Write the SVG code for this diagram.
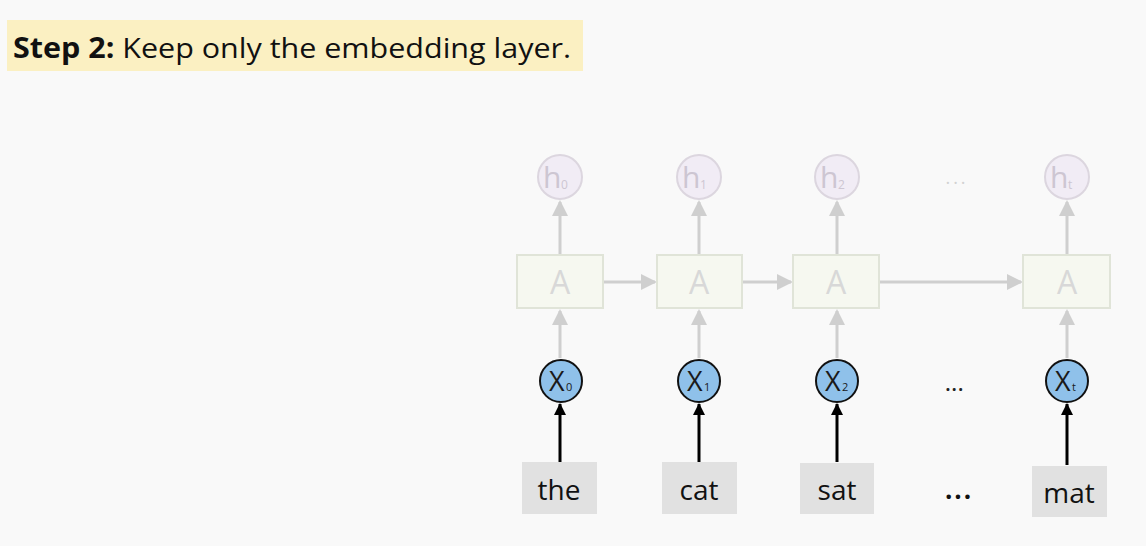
<svg xmlns="http://www.w3.org/2000/svg" width="1146" height="546" viewBox="0 0 1146 546">
<defs>
<style>
.t{font-family:"Open Sans","Noto Sans","Liberation Sans",sans-serif}
.hc{fill:#f1ecf5;stroke:#dcd6df;stroke-width:2}
.ht{fill:#cdc6d2;font-size:30px}
.hs{fill:#cdc6d2;font-size:12px}
.ab{fill:#f6f8f0;stroke:#e0e4d8;stroke-width:2}
.at{fill:#d8d8d8;font-size:32px}
.xc{fill:#8fc1ea;stroke:#111;stroke-width:2}
.xt{fill:#1a1a1a;font-size:27px}
.xs{fill:#1a1a1a;font-size:11px}
.wb{fill:#e1e1e1}
.wt{fill:#111;font-size:28px}
.g{stroke:#cfcfcf;stroke-width:3;fill:none}
.k{stroke:#000;stroke-width:3;fill:none}
</style>
<marker id="ag" markerUnits="userSpaceOnUse" markerWidth="16" markerHeight="16" refX="14" refY="8" orient="auto"><path d="M0,0 L16,8 L0,16 z" fill="#cfcfcf"/></marker>
<marker id="ak" markerUnits="userSpaceOnUse" markerWidth="12" markerHeight="12" refX="11" refY="6" orient="auto"><path d="M0,0 L12,6 L0,12 z" fill="#000"/></marker>
</defs>
<rect width="1146" height="546" fill="#f9f9f9"/>
<g id="title">
<rect x="7" y="20" width="576" height="51" fill="#fbf0c2"/>
<text class="t" x="13" y="58" font-size="28" fill="#111" textLength="558" lengthAdjust="spacingAndGlyphs"><tspan font-weight="bold">Step 2:</tspan> Keep only the embedding layer.</text>
</g>
<g id="connectors">
<line class="g" x1="560" y1="255" x2="560" y2="202" marker-end="url(#ag)"/>
<line class="g" x1="699" y1="255" x2="699" y2="202" marker-end="url(#ag)"/>
<line class="g" x1="837" y1="255" x2="837" y2="202" marker-end="url(#ag)"/>
<line class="g" x1="1067" y1="255" x2="1067" y2="202" marker-end="url(#ag)"/>
<line class="g" x1="560" y1="358" x2="560" y2="311" marker-end="url(#ag)"/>
<line class="g" x1="699" y1="358" x2="699" y2="311" marker-end="url(#ag)"/>
<line class="g" x1="837" y1="358" x2="837" y2="311" marker-end="url(#ag)"/>
<line class="g" x1="1067" y1="358" x2="1067" y2="311" marker-end="url(#ag)"/>
<line class="g" x1="604" y1="282" x2="655" y2="282" marker-end="url(#ag)"/>
<line class="g" x1="743" y1="282" x2="791" y2="282" marker-end="url(#ag)"/>
<line class="g" x1="880" y1="282" x2="1021" y2="282" marker-end="url(#ag)"/>
<line class="k" x1="560" y1="462" x2="560" y2="404" marker-end="url(#ak)"/>
<line class="k" x1="699" y1="462" x2="699" y2="404" marker-end="url(#ak)"/>
<line class="k" x1="837" y1="462" x2="837" y2="404" marker-end="url(#ak)"/>
<line class="k" x1="1067" y1="465" x2="1067" y2="404" marker-end="url(#ak)"/>
</g>
<g id="h0"><circle class="hc" cx="560" cy="177" r="22"/><text class="t ht" x="543" y="188">h</text><text class="t hs" x="561" y="189">0</text></g>
<g id="h1"><circle class="hc" cx="699" cy="177" r="22"/><text class="t ht" x="682" y="188">h</text><text class="t hs" x="700" y="189">1</text></g>
<g id="h2"><circle class="hc" cx="837" cy="177" r="22"/><text class="t ht" x="820" y="188">h</text><text class="t hs" x="838" y="189">2</text></g>
<g id="ht"><circle class="hc" cx="1067" cy="177" r="22"/><text class="t ht" x="1050" y="188">h</text><text class="t hs" x="1068" y="189">t</text></g>
<g id="hdots"><text class="t" x="957" y="184" font-size="18" fill="#d2d2d2" text-anchor="middle" letter-spacing="3">...</text></g>
<g id="A0"><rect class="ab" x="517" y="255" width="86" height="53"/><text class="t at" x="560" y="294" text-anchor="middle">A</text></g>
<g id="A1"><rect class="ab" x="657" y="255" width="85" height="53"/><text class="t at" x="699" y="294" text-anchor="middle">A</text></g>
<g id="A2"><rect class="ab" x="793" y="255" width="86" height="53"/><text class="t at" x="836" y="294" text-anchor="middle">A</text></g>
<g id="At"><rect class="ab" x="1023" y="255" width="87" height="53"/><text class="t at" x="1067" y="294" text-anchor="middle">A</text></g>
<g id="x0"><circle class="xc" cx="561" cy="381" r="21"/><text class="t xt" x="549" y="391">X</text><text class="t xs" x="566" y="391">0</text></g>
<g id="x1"><circle class="xc" cx="699" cy="381" r="21"/><text class="t xt" x="687" y="391">X</text><text class="t xs" x="704" y="391">1</text></g>
<g id="x2"><circle class="xc" cx="837" cy="381" r="21"/><text class="t xt" x="825" y="391">X</text><text class="t xs" x="842" y="391">2</text></g>
<g id="xt"><circle class="xc" cx="1067" cy="381" r="21"/><text class="t xt" x="1055" y="391">X</text><text class="t xs" x="1072" y="391">t</text></g>
<g id="xdots"><text class="t" x="955" y="391" font-size="17" font-weight="bold" fill="#222" text-anchor="middle" letter-spacing="1.5">...</text></g>
<g id="wdots"><text class="t" x="959" y="499" font-size="26" font-weight="bold" fill="#111" text-anchor="middle" letter-spacing="2">...</text></g>
<g id="the"><rect class="wb" x="522" y="462" width="75" height="52"/><text class="t wt" x="559" y="500" text-anchor="middle">the</text></g>
<g id="cat"><rect class="wb" x="662" y="462" width="75" height="52"/><text class="t wt" x="699" y="500" text-anchor="middle">cat</text></g>
<g id="sat"><rect class="wb" x="800" y="463" width="74" height="51"/><text class="t wt" x="837" y="500" text-anchor="middle">sat</text></g>
<g id="mat"><rect class="wb" x="1032" y="466" width="75" height="51"/><text class="t wt" x="1069" y="503" text-anchor="middle">mat</text></g>
</svg>
